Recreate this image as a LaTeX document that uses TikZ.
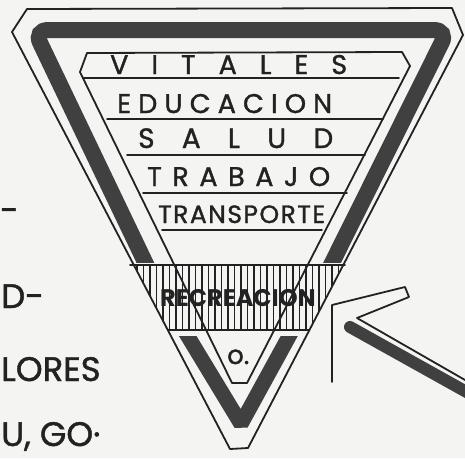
\documentclass[tikz,border=0pt]{standalone}
\usepackage{fontspec}
\setmainfont{Poppins}
\newfontfamily\handfont{Poppins}[FakeBold=1.3]
\definecolor{paper}{RGB}{244,244,242}
\definecolor{ink}{RGB}{34,34,34}
\definecolor{dark}{RGB}{64,64,64}
\newcommand\spreadword[2]{\makebox[#1][s]{#2}}
\begin{document}
\begin{tikzpicture}[x=1pt,y=-1pt,
  thinline/.style={line width=1.8pt,draw=ink,line join=round,line cap=round},
  thickband/.style={line width=16pt,draw=dark},
  hatchline/.style={line width=1.1pt,draw=ink},
  word/.style={inner sep=0pt,anchor=base west,text=ink,font=\handfont\fontsize{27}{27}\selectfont},
  sideword/.style={inner sep=0pt,anchor=base west,text=ink,font=\handfont\fontsize{34}{34}\selectfont}]
\useasboundingbox (0,0) rectangle (465,458);
\fill[paper] (0,0) rectangle (465,458);
\clip (0,0) rectangle (465,458);

% dark band, upper part
\begin{scope}
  \clip (0,0) rectangle (465,262);
  \draw[thickband,rounded corners=14] (156,285) -- (34,30) -- (448,30) -- (321,285);
\end{scope}
% dark band, lower V
\begin{scope}
  \clip (0,336) rectangle (465,458);
  \draw[thickband,line width=15pt,line join=bevel] (178,320) -- (241,424) -- (298,320);
\end{scope}

% hatched band
\begin{scope}
  \clip (133.8,265) -- (343.3,265) -- (309.4,330) -- (167.8,330) -- cycle;
  \foreach \x in {137,143.5,...,345} \draw[hatchline] (\x,260) -- (\x,335);
\end{scope}
\draw[thinline] (130,265) -- (345,265);
\draw[thinline] (167.8,330) -- (309.4,330);

% outer outline
\draw[thinline] (27,9) -- (452,8) -- (463,35) -- (248,448) -- (230,449) -- (12,32) -- cycle;
% inner outline
\draw[thinline] (87,53) -- (402,52) -- (410,66) -- (247,383) -- (232,383) -- (80,72) -- cycle;

% row lines
\draw[thinline] (83,78) -- (399,78);
\draw[thinline] (107,119) -- (383,119);
\draw[thinline] (127,155) -- (365,155);
\draw[thinline] (143,193) -- (347,193);
\draw[thinline] (162,230) -- (322,230);

% labels in the triangle
\node[word] (vitales) at (110,74) {\spreadword{237pt}{V\hfil I\hfil T\hfil A\hfil L\hfil E\hfil S}};
\node[word] (educacion) at (117,113) {\spreadword{215pt}{E\hfil D\hfil U\hfil C\hfil A\hfil C\hfil I\hfil O\hfil N}};
\node[word,font=\handfont\fontsize{28}{28}\selectfont] (salud) at (138,148) {\spreadword{195pt}{S\hfil A\hfil L\hfil U\hfil D}};
\node[word] (trabajo) at (147,186) {\spreadword{183pt}{T\hfil R\hfil A\hfil B\hfil A\hfil J\hfil O}};
\node[word,font=\handfont\fontsize{25}{25}\selectfont] (transporte) at (158,223) {\spreadword{167pt}{T\hfil R\hfil A\hfil N\hfil S\hfil P\hfil O\hfil R\hfil T\hfil E}};
\node[word,font=\fontsize{24}{24}\selectfont\bfseries] (recreacion) at (160,306) {\spreadword{153pt}{R\hfil E\hfil C\hfil R\hfil E\hfil A\hfil C\hfil I\hfil O\hfil N}};
\node[word,font=\handfont\fontsize{26}{26}\selectfont] (odot) at (227,364) {o.};

% arrow on the right
\coordinate (a1) at (332,382);
\coordinate (a2) at (332,305);
\coordinate (a3) at (405,287);
\coordinate (a4) at (409,297);
\coordinate (a5) at (357,318);
\coordinate (a6) at (472,384);
\draw[thinline] (a1) -- (a2) -- (a3) -- (a4) -- (a5) -- (a6);
\coordinate (s1) at (350,327);
\coordinate (s2) at (472,395);
\draw[draw=dark,line width=12pt,line cap=round] (s1) -- (s2);

% words at the left edge
\node[sideword] (dash1) at (0,222) {-};
\node[sideword] (dword) at (1,308) {D-};
\node[sideword] (lores) at (1,381) {LORES};
\node[sideword] (ugo) at (1,446) {U, GO·};
\end{tikzpicture}
\end{document}
